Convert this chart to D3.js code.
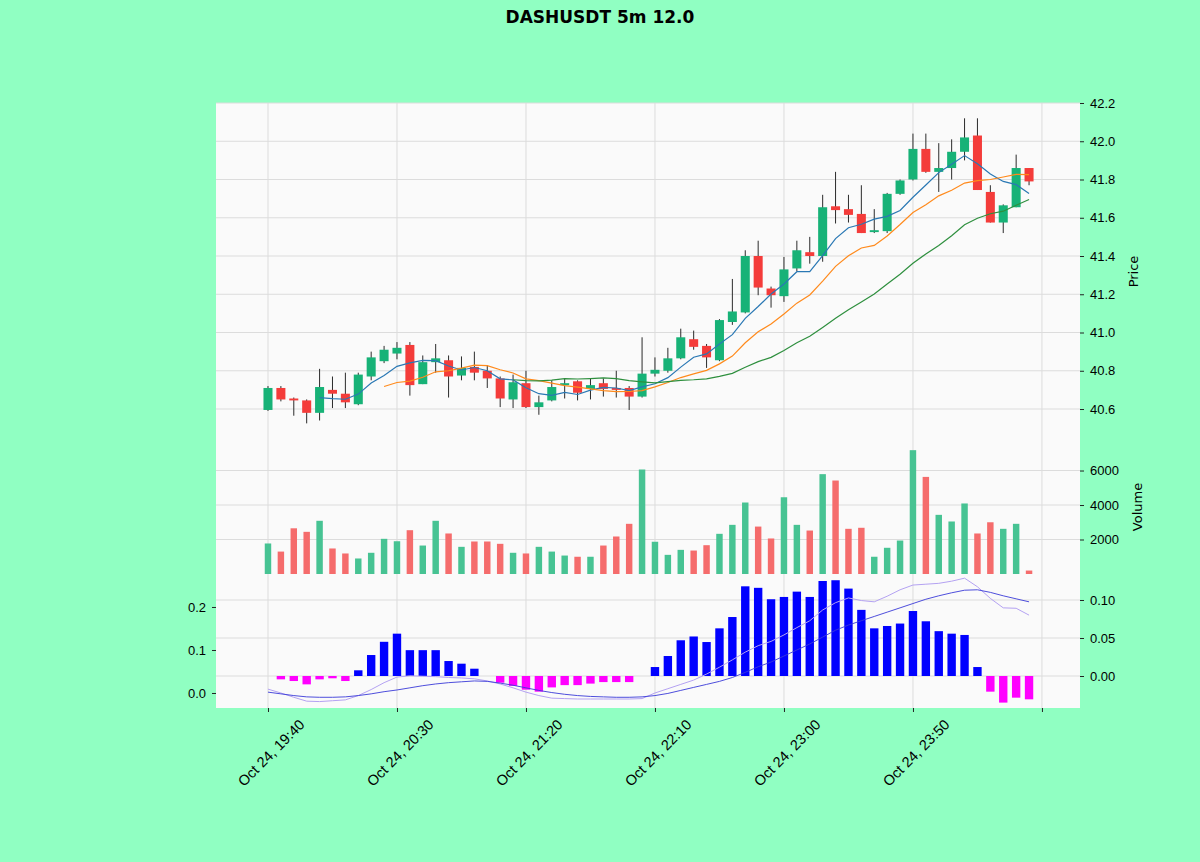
<!DOCTYPE html>
<html>
<head>
<meta charset="utf-8">
<script src="https://cdn.jsdelivr.net/npm/d3@7"></script>
<style>
  body { margin: 0; background: #90ffc2; }
  svg { display: block; font-family: "DejaVu Sans", sans-serif; }
  .tick text { font-size: 13px; fill: #000; }
  .tick line { stroke: #222; }
  .grid line { stroke: #dcdcdc; stroke-width: 1; }
</style>
</head>
<body>
<div class="chart-wrapper"></div>
<script>
// candles, 5m from Oct 24 19:40
const opens = [40.595, 40.71, 40.655, 40.645, 40.58, 40.70, 40.68, 40.625, 40.77, 40.85,
  40.89, 40.935, 40.73, 40.845, 40.855, 40.775, 40.82, 40.80, 40.76, 40.65,
  40.735, 40.61, 40.645, 40.725, 40.745, 40.705, 40.735, 40.71, 40.71, 40.665,
  40.785, 40.80, 40.865, 40.965, 40.93, 40.855, 41.055, 41.105, 41.40, 41.23,
  41.19, 41.335, 41.42, 41.40, 41.66, 41.645, 41.62, 41.525, 41.53, 41.725,
  41.80, 41.96, 41.84, 41.86, 41.945, 42.03, 41.735, 41.575, 41.655, 41.86]
const highs = [40.72, 40.72, 40.66, 40.65, 40.81, 40.77, 40.79, 40.79, 40.90, 40.93,
  40.95, 40.95, 40.88, 40.94, 40.88, 40.875, 40.90, 40.83, 40.77, 40.78,
  40.80, 40.67, 40.75, 40.76, 40.75, 40.76, 40.76, 40.80, 40.72, 40.975,
  40.87, 40.92, 41.02, 41.01, 40.94, 41.07, 41.28, 41.43, 41.48, 41.24,
  41.395, 41.48, 41.50, 41.72, 41.84, 41.72, 41.77, 41.645, 41.73, 41.80,
  42.04, 42.04, 41.99, 42.01, 42.12, 42.12, 41.77, 41.67, 41.93, 41.86]
const lows = [40.59, 40.64, 40.565, 40.525, 40.54, 40.605, 40.605, 40.62, 40.75, 40.84,
  40.86, 40.67, 40.73, 40.79, 40.66, 40.75, 40.75, 40.71, 40.61, 40.605,
  40.605, 40.57, 40.64, 40.655, 40.645, 40.65, 40.665, 40.66, 40.595, 40.66,
  40.77, 40.79, 40.86, 40.91, 40.815, 40.85, 41.04, 41.10, 41.195, 41.13,
  41.16, 41.32, 41.36, 41.37, 41.57, 41.575, 41.52, 41.52, 41.52, 41.72,
  41.795, 41.835, 41.735, 41.80, 41.90, 41.745, 41.575, 41.52, 41.655, 41.77]
const closes = [40.71, 40.65, 40.645, 40.58, 40.715, 40.68, 40.635, 40.78, 40.87, 40.91,
  40.92, 40.725, 40.845, 40.865, 40.77, 40.815, 40.79, 40.76, 40.655, 40.74,
  40.61, 40.635, 40.715, 40.735, 40.685, 40.725, 40.705, 40.70, 40.665, 40.785,
  40.805, 40.865, 40.975, 40.925, 40.87, 41.065, 41.11, 41.40, 41.235, 41.195,
  41.33, 41.43, 41.40, 41.655, 41.64, 41.615, 41.52, 41.535, 41.725, 41.795,
  41.96, 41.84, 41.86, 41.945, 42.02, 41.745, 41.575, 41.665, 41.86, 41.79]
const volumes = [1770, 1300, 2650, 2445, 3085, 1480, 1190, 900, 1230, 2040,
  1900, 2540, 1650, 3085, 2350, 1575, 1885, 1885, 1750, 1230,
  1190, 1575, 1300, 1070, 1000, 1000, 1650, 2175, 2910, 6060,
  1870, 1110, 1400, 1360, 1670, 2330, 2850, 4145, 2750, 2060,
  4450, 2850, 2520, 5790, 5420, 2620, 2680, 1000, 1520, 1940,
  7180, 5630, 3430, 3045, 4090, 2350, 3000, 2620, 2910, 200]

// macd panel
const macdLine = [0.009, 0.0, -0.010, -0.019, -0.020, -0.018, -0.016, -0.006, 0.008, 0.024,
  0.037, 0.040, 0.039, 0.038, 0.036, 0.035, 0.033, 0.028, 0.021, 0.012,
  0.002, -0.006, -0.012, -0.013, -0.014, -0.014, -0.014, -0.014, -0.014, -0.013,
  0.0, 0.010, 0.020, 0.030, 0.044, 0.060, 0.077, 0.095, 0.110, 0.120,
  0.135, 0.152, 0.168, 0.193, 0.210, 0.221, 0.215, 0.212, 0.225, 0.240,
  0.251, 0.253, 0.255, 0.260, 0.267, 0.247, 0.220, 0.198, 0.197, 0.181]
const signalLine = [0.002, -0.002, -0.006, -0.009, -0.010, -0.010, -0.009, -0.006, -0.002, 0.003,
  0.007, 0.012, 0.017, 0.021, 0.024, 0.026, 0.028, 0.027, 0.023, 0.018,
  0.012, 0.006, 0.001, -0.003, -0.006, -0.008, -0.009, -0.010, -0.010, -0.009,
  -0.006, -0.001, 0.006, 0.013, 0.020, 0.027, 0.036, 0.048, 0.061, 0.072,
  0.086, 0.100, 0.114, 0.130, 0.146, 0.158, 0.168, 0.178, 0.188, 0.198,
  0.208, 0.218, 0.226, 0.233, 0.239, 0.240, 0.234, 0.226, 0.219, 0.212]
const histo = [null, -0.0044, -0.0066, -0.011, -0.0044, -0.003, -0.0066, 0.0075, 0.0276, 0.045,
  0.0557, 0.034, 0.034, 0.034, 0.0197, 0.0162, 0.0096, null, -0.0088, -0.013,
  -0.018, -0.0206, -0.015, -0.012, -0.012, -0.010, -0.008, -0.008, -0.008, null,
  0.0118, 0.0263, 0.047, 0.052, 0.0447, 0.0627, 0.0776, 0.118, 0.116, 0.101,
  0.104, 0.111, 0.104, 0.125, 0.126, 0.115, 0.087, 0.0627, 0.0658, 0.069,
  0.0855, 0.072, 0.059, 0.0557, 0.054, 0.0118, -0.0206, -0.035, -0.0285, -0.0307]

const mavs = [5, 10, 20]
const mavColors = ['#2a78b4', '#ff8a1c', '#2e8f3e']

const xTicks = [0, 10, 20, 30, 40, 50, 60]
const xLabels = ['Oct 24, 19:40', 'Oct 24, 20:30', 'Oct 24, 21:20', 'Oct 24, 22:10', 'Oct 24, 23:00', 'Oct 24, 23:50', '']
const priceTicks = [40.6, 40.8, 41.0, 41.2, 41.4, 41.6, 41.8, 42.0, 42.2]
const volTicks = [2000, 4000, 6000]
const histTicks = [0, 0.05, 0.10]
const macdTicks = [0, 0.1, 0.2]

const width = 1200
const height = 862
const left = 216, right = 1080
const pTop = 103, pBot = 440, vBot = 574, mBot = 708

const upCol = '#17b277', downCol = '#f43c3a'
const upVol = '#47c393', downVol = '#f56c6c'

const data = opens.map((o, i) => ({
  i: i, o: o, h: highs[i], l: lows[i], c: closes[i], v: volumes[i],
  macd: macdLine[i], sig: signalLine[i], hist: histo[i]
}))

const x = d3.scaleLinear().domain([-4.03, 62.95]).range([left, right])
const yPrice = d3.scaleLinear().domain([40.438, 42.2]).range([pBot, pTop])
const yVol = d3.scaleLinear().domain([0, 7770]).range([vBot, pBot])
const yHist = d3.scaleLinear().domain([-0.0421, 0.1342]).range([mBot, vBot])
const yMacd = d3.scaleLinear().domain([-0.0349, 0.2767]).range([mBot, vBot])

const svg = d3.select('.chart-wrapper')
.append('svg')
.attr('width', width)
.attr('height', height)

svg.append('rect')
.attr('x', left).attr('y', pTop)
.attr('width', right - left).attr('height', mBot - pTop)
.attr('fill', '#fafafa')

// grid
const grid = svg.append('g').attr('class', 'grid')

grid.selectAll('.vg')
.data(xTicks)
.enter()
.append('line')
.attr('x1', d => x(d)).attr('x2', d => x(d))
.attr('y1', pTop).attr('y2', mBot)

grid.selectAll('.pg')
.data(priceTicks)
.enter()
.append('line')
.attr('x1', left).attr('x2', right)
.attr('y1', d => yPrice(d)).attr('y2', d => yPrice(d))

grid.selectAll('.vlg')
.data(volTicks)
.enter()
.append('line')
.attr('x1', left).attr('x2', right)
.attr('y1', d => yVol(d)).attr('y2', d => yVol(d))

grid.selectAll('.hg')
.data(histTicks)
.enter()
.append('line')
.attr('x1', left).attr('x2', right)
.attr('y1', d => yHist(d)).attr('y2', d => yHist(d))

// candles
const bw = (x(1) - x(0)) * 0.7
const candles = svg.append('g')

candles.selectAll('line')
.data(data)
.enter()
.append('line')
.attr('x1', d => x(d.i)).attr('x2', d => x(d.i))
.attr('y1', d => yPrice(d.h)).attr('y2', d => yPrice(d.l))
.attr('stroke', '#2b2b2b')
.attr('stroke-width', 1)

candles.selectAll('rect')
.data(data)
.enter()
.append('rect')
.attr('x', d => x(d.i) - bw / 2)
.attr('width', bw)
.attr('y', d => yPrice(Math.max(d.o, d.c)))
.attr('height', d => Math.max(1, Math.abs(yPrice(d.o) - yPrice(d.c))))
.attr('fill', d => d.c >= d.o ? upCol : downCol)

// moving averages
mavs.forEach((n, k) => {
  let pts = []
  data.forEach((d, i) => {
    if (i >= n - 1) pts.push([i, d3.mean(closes.slice(i - n + 1, i + 1))])
  })
  svg.append('path')
  .datum(pts)
  .attr('fill', 'none')
  .attr('stroke', mavColors[k])
  .attr('stroke-width', 1.2)
  .attr('d', d3.line().x(d => x(d[0])).y(d => yPrice(d[1])))
})

// volume
const vw = (x(1) - x(0)) * 0.5
svg.append('g')
.selectAll('rect')
.data(data)
.enter()
.append('rect')
.attr('x', d => x(d.i) - vw / 2)
.attr('width', vw)
.attr('y', d => yVol(d.v))
.attr('height', d => yVol(0) - yVol(d.v))
.attr('fill', d => d.c >= d.o ? upVol : downVol)

// macd histogram
const hw = (x(1) - x(0)) * 0.65
svg.append('g')
.selectAll('rect')
.data(data.filter(d => d.hist != null))
.enter()
.append('rect')
.attr('x', d => x(d.i) - hw / 2)
.attr('width', hw)
.attr('y', d => yHist(Math.max(0, d.hist)))
.attr('height', d => Math.abs(yHist(d.hist) - yHist(0)))
.attr('fill', d => d.hist >= 0 ? '#0000ff' : '#ff00ff')

svg.append('path')
.datum(data)
.attr('fill', 'none')
.attr('stroke', '#b4a2f2')
.attr('stroke-width', 1)
.attr('d', d3.line().x(d => x(d.i)).y(d => yMacd(d.macd)))

svg.append('path')
.datum(data)
.attr('fill', 'none')
.attr('stroke', '#3a3ad8')
.attr('stroke-width', 0.9)
.attr('d', d3.line().x(d => x(d.i)).y(d => yMacd(d.sig)))

// axes
svg.append('g')
.attr('transform', `translate(${right},0)`)
.call(d3.axisRight(yPrice).tickValues(priceTicks).tickFormat(d3.format('.1f')).tickSize(4).tickPadding(6))
.call(g => g.select('.domain').remove())

svg.append('g')
.attr('transform', `translate(${right},0)`)
.call(d3.axisRight(yVol).tickValues(volTicks).tickFormat(d3.format('d')).tickSize(4).tickPadding(6))
.call(g => g.select('.domain').remove())

svg.append('g')
.attr('transform', `translate(${right},0)`)
.call(d3.axisRight(yHist).tickValues(histTicks).tickFormat(d3.format('.2f')).tickSize(4).tickPadding(6))
.call(g => g.select('.domain').remove())

svg.append('g')
.attr('transform', `translate(${left},0)`)
.call(d3.axisLeft(yMacd).tickValues(macdTicks).tickFormat(d3.format('.1f')).tickSize(4).tickPadding(6))
.call(g => g.select('.domain').remove())

const xAxis = svg.append('g')
.attr('transform', `translate(0,${mBot})`)
.call(d3.axisBottom(x).tickValues(xTicks).tickFormat('').tickSize(4))
.call(g => g.select('.domain').remove())

xAxis.selectAll('.xl')
.data(xTicks)
.enter()
.append('text')
.attr('class', 'xl')
.attr('transform', d => `translate(${x(d) + 34},14) rotate(-45)`)
.attr('text-anchor', 'end')
.attr('dy', '0.35em')
.attr('font-size', 14.5)
.attr('fill', '#000')
.text((d, i) => xLabels[i])

// labels
svg.append('text')
.attr('transform', `translate(1138,${(pTop + pBot) / 2}) rotate(-90)`)
.attr('text-anchor', 'middle')
.attr('font-size', 13)
.text('Price')

svg.append('text')
.attr('transform', `translate(1142,${(pBot + vBot) / 2}) rotate(-90)`)
.attr('text-anchor', 'middle')
.attr('font-size', 13)
.text('Volume')

svg.append('text')
.attr('x', width / 2)
.attr('y', 23)
.attr('text-anchor', 'middle')
.attr('font-size', 17)
.attr('font-weight', 'bold')
.text('DASHUSDT 5m 12.0')
</script>
</body>
</html>
